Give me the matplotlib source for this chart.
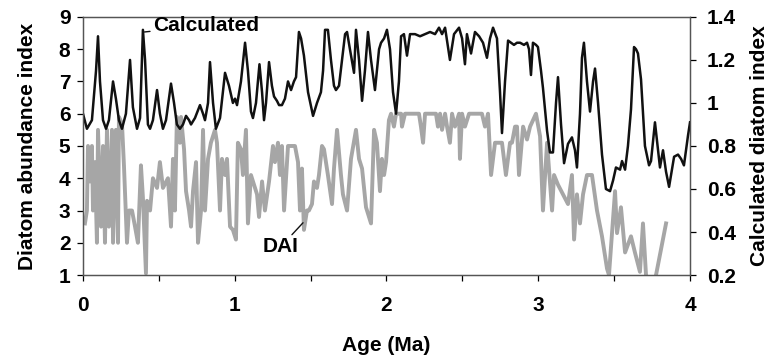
import numpy as np
import matplotlib.pyplot as plt
from matplotlib.ticker import MultipleLocator, FixedLocator

plt.rcParams['font.family'] = ['Liberation Sans', 'DejaVu Sans']
plt.rcParams['font.weight'] = 'bold'

# calculated diatom index (right axis)
calc_age = [0.000, 0.026, 0.059, 0.086, 0.099, 0.112, 0.132, 0.152, 0.171, 0.198,
            0.217, 0.237, 0.257, 0.283, 0.310, 0.329, 0.356, 0.376, 0.395, 0.409,
            0.428, 0.442, 0.461, 0.488, 0.507, 0.527, 0.547, 0.580, 0.600, 0.619,
            0.639, 0.659, 0.679, 0.699, 0.712, 0.738, 0.771, 0.791, 0.804, 0.824,
            0.837, 0.857, 0.876, 0.903, 0.936, 0.962, 0.988, 1.002, 1.015, 1.041,
            1.068, 1.087, 1.107, 1.120, 1.140, 1.163, 1.180, 1.193, 1.206, 1.226,
            1.245, 1.259, 1.278, 1.292, 1.311, 1.331, 1.351, 1.371, 1.390, 1.404,
            1.423, 1.437, 1.456, 1.483, 1.516, 1.542, 1.568, 1.582, 1.595, 1.614,
            1.634, 1.654, 1.667, 1.687, 1.707, 1.727, 1.740, 1.759, 1.786, 1.799,
            1.819, 1.839, 1.858, 1.878, 1.898, 1.924, 1.951, 1.964, 1.984, 2.003,
            2.023, 2.043, 2.063, 2.082, 2.096, 2.115, 2.135, 2.155, 2.188, 2.221,
            2.254, 2.287, 2.320, 2.346, 2.366, 2.386, 2.418, 2.445, 2.478, 2.498,
            2.517, 2.530, 2.557, 2.583, 2.610, 2.636, 2.662, 2.682, 2.702, 2.728,
            2.748, 2.761, 2.781, 2.801, 2.820, 2.840, 2.860, 2.880, 2.906, 2.926,
            2.939, 2.952, 2.965, 2.985, 2.998, 3.018, 3.031, 3.058, 3.077, 3.097,
            3.117, 3.130, 3.150, 3.170, 3.196, 3.222, 3.242, 3.255, 3.275, 3.288,
            3.301, 3.321, 3.341, 3.361, 3.374, 3.394, 3.420, 3.446, 3.473, 3.493,
            3.512, 3.539, 3.552, 3.572, 3.591, 3.611, 3.631, 3.644, 3.657, 3.677,
            3.703, 3.730, 3.743, 3.769, 3.802, 3.822, 3.842, 3.862, 3.895, 3.921,
            3.941, 3.960, 3.987, 4.000]
calc_val = [0.95, 0.88, 0.92, 1.15, 1.31, 1.10, 0.92, 0.88, 0.92, 1.10,
            1.02, 0.92, 0.88, 0.95, 1.20, 0.98, 0.88, 0.93, 1.34, 1.20,
            0.90, 0.88, 0.92, 1.06, 0.95, 0.88, 0.92, 1.09, 1.00, 0.90,
            0.88, 0.90, 0.94, 0.92, 0.90, 0.93, 0.99, 0.95, 0.92, 1.00,
            1.19, 1.00, 0.88, 0.93, 1.14, 1.08, 1.00, 1.02, 0.99, 1.10,
            1.28, 1.15, 0.96, 0.93, 1.00, 1.18, 1.05, 0.92, 1.00, 1.19,
            1.08, 1.03, 1.01, 0.99, 0.99, 1.02, 1.10, 1.06, 1.10, 1.12,
            1.33, 1.30, 1.22, 1.05, 0.94, 1.00, 1.05, 1.15, 1.34, 1.34,
            1.20, 1.08, 1.06, 1.08, 1.20, 1.32, 1.33, 1.25, 1.14, 1.34,
            1.20, 1.01, 1.15, 1.33, 1.20, 1.06, 1.25, 1.28, 1.30, 1.34,
            1.25, 1.05, 0.95, 1.10, 1.31, 1.32, 1.22, 1.32, 1.32, 1.31,
            1.32, 1.33, 1.32, 1.35, 1.32, 1.35, 1.20, 1.32, 1.35, 1.30,
            1.18, 1.32, 1.23, 1.33, 1.31, 1.28, 1.21, 1.30, 1.35, 1.30,
            1.05, 0.86, 1.10, 1.29, 1.28, 1.27, 1.28, 1.28, 1.27, 1.28,
            1.25, 1.13, 1.28, 1.27, 1.26, 1.15, 1.07, 0.87, 0.77, 0.77,
            1.00, 1.12, 0.90, 0.72, 0.81, 0.84, 0.78, 0.70, 0.95, 1.21,
            1.28, 1.10, 0.96, 1.10, 1.16, 1.00, 0.76, 0.60, 0.59, 0.64,
            0.70, 0.69, 0.73, 0.69, 0.80, 0.97, 1.26, 1.25, 1.23, 1.11,
            0.80, 0.71, 0.73, 0.91, 0.70, 0.78, 0.68, 0.61, 0.75, 0.76,
            0.74, 0.71, 0.85, 0.91]

# diatom abundance index (left axis)
dai_age = [0.013, 0.026, 0.033, 0.046, 0.059, 0.066, 0.079, 0.092, 0.099, 0.119,
           0.132, 0.145, 0.158, 0.171, 0.191, 0.198, 0.217, 0.231, 0.237, 0.257,
           0.270, 0.290, 0.303, 0.323, 0.343, 0.362, 0.382, 0.395, 0.415, 0.422,
           0.442, 0.461, 0.488, 0.507, 0.527, 0.560, 0.580, 0.593, 0.606, 0.619,
           0.639, 0.646, 0.666, 0.679, 0.699, 0.712, 0.725, 0.745, 0.758, 0.778,
           0.791, 0.804, 0.824, 0.843, 0.870, 0.883, 0.903, 0.916, 0.936, 0.949,
           0.969, 0.988, 1.008, 1.021, 1.041, 1.054, 1.074, 1.087, 1.107, 1.127,
           1.147, 1.160, 1.180, 1.199, 1.226, 1.252, 1.265, 1.285, 1.298, 1.311,
           1.325, 1.351, 1.397, 1.417, 1.430, 1.443, 1.456, 1.476, 1.489, 1.509,
           1.522, 1.542, 1.555, 1.575, 1.588, 1.614, 1.641, 1.654, 1.674, 1.700,
           1.713, 1.740, 1.766, 1.799, 1.819, 1.839, 1.865, 1.898, 1.918, 1.937,
           1.957, 1.970, 1.984, 1.997, 2.016, 2.030, 2.049, 2.063, 2.096, 2.102,
           2.122, 2.214, 2.227, 2.241, 2.254, 2.326, 2.339, 2.353, 2.366, 2.386,
           2.399, 2.418, 2.432, 2.451, 2.478, 2.484, 2.498, 2.517, 2.544, 2.629,
           2.649, 2.669, 2.689, 2.715, 2.761, 2.787, 2.814, 2.827, 2.847, 2.860,
           2.873, 2.900, 2.926, 2.946, 2.985, 3.012, 3.031, 3.058, 3.091, 3.104,
           3.130, 3.163, 3.196, 3.222, 3.236, 3.255, 3.275, 3.295, 3.321, 3.354,
           3.387, 3.420, 3.453, 3.466, 3.506, 3.519, 3.545, 3.572, 3.611, 3.637,
           3.670, 3.690, 3.710, 3.743, 3.776, 3.842]
dai_val = [2.6, 3.0, 5.0, 3.9, 5.0, 3.0, 4.5, 2.0, 5.5, 2.5,
           5.0, 2.0, 5.5, 2.5, 5.5, 2.0, 5.5, 2.0, 5.9, 5.7,
           4.4, 2.0, 3.0, 3.0, 2.5, 2.0, 4.4, 3.4, 1.05, 3.3,
           3.0, 4.0, 3.7, 4.5, 3.7, 4.0, 2.5, 4.6, 3.0, 5.9,
           5.1, 5.9, 4.9, 3.6, 3.0, 2.5, 3.6, 4.5, 2.0, 3.0,
           5.5, 3.0, 4.6, 5.1, 5.5, 5.1, 3.0, 4.6, 4.1, 4.6,
           2.5, 2.4, 2.1, 5.1, 4.9, 4.1, 5.5, 2.6, 4.1, 3.8,
           3.5, 2.8, 3.9, 3.0, 3.9, 5.0, 4.5, 5.1, 4.1, 5.0,
           3.0, 5.0, 5.0, 4.5, 3.0, 4.3, 2.4, 3.0, 3.0, 3.2,
           3.9, 3.7, 4.1, 5.0, 4.9, 4.1, 3.2, 4.3, 5.5, 4.1,
           3.5, 3.0, 4.6, 5.5, 4.6, 4.3, 3.1, 2.6, 5.5, 5.1,
           3.6, 4.6, 4.1, 4.5, 5.8, 6.0, 5.6, 6.0, 6.0, 5.6,
           6.0, 6.0, 5.6, 5.1, 6.0, 6.0, 5.6, 6.0, 5.5, 6.0,
           5.6, 5.1, 6.0, 5.6, 6.0, 4.6, 6.0, 5.6, 6.0, 6.0,
           5.6, 6.0, 4.1, 5.1, 5.1, 4.1, 5.1, 5.1, 5.6, 5.6,
           4.1, 5.6, 5.2, 5.6, 6.0, 5.3, 3.0, 5.1, 3.0, 4.1,
           3.8, 3.5, 3.2, 4.1, 2.1, 3.5, 2.6, 3.5, 4.1, 4.1,
           3.0, 2.2, 1.2, 1.0, 3.6, 2.3, 3.1, 1.7, 2.2, 1.7,
           1.1, 2.6, 1.0, 0.6, 1.0, 2.6]

fig = plt.figure(figsize=(7.74, 3.6), dpi=100)
ax = fig.add_axes([0.1072, 0.236, 0.7843, 0.717])
ax2 = ax.twinx()

ax.plot(dai_age, dai_val, color='#a6a6a6', lw=2.8)
ax2.plot(calc_age, calc_val, color='#111111', lw=1.8)

ax.set_xlim(0, 4)
ax.set_ylim(1, 9)
ax2.set_ylim(0.2, 1.4)

ax.xaxis.set_major_locator(FixedLocator([0, 1, 2, 3, 4]))
ax.xaxis.set_minor_locator(MultipleLocator(0.5))
ax.yaxis.set_major_locator(MultipleLocator(1))
ax2.yaxis.set_major_locator(MultipleLocator(0.2))
ax2.yaxis.set_major_formatter(plt.FuncFormatter(lambda v, p: ('%.1f' % v).rstrip('0').rstrip('.')))

for a in (ax, ax2):
    a.tick_params(which='both', direction='out', length=4, width=0.9, labelsize=15)
    for s in a.spines.values():
        s.set_color('#555555')
        s.set_linewidth(0.9)
ax.tick_params(axis='x', which='both', pad=11)
ax.tick_params(axis='y', pad=5)
ax2.tick_params(axis='y', pad=8)

ax.set_xlabel('Age (Ma)', fontsize=15, fontweight='bold', labelpad=15)
ax.set_ylabel('Diatom abundance index', fontsize=15, fontweight='bold', labelpad=16)
ax2.set_ylabel('Calculated diatom index', fontsize=15, fontweight='bold', labelpad=10)

ax2.annotate('Calculated', xy=(0.405, 1.33), xytext=(0.46, 1.36),
             fontsize=15, fontweight='bold', va='center', ha='left',
             arrowprops=dict(arrowstyle='-', color='#111111', lw=1.0, shrinkA=0, shrinkB=0))
ax.annotate('DAI', xy=(1.45, 2.62), xytext=(1.42, 1.87),
            fontsize=15, fontweight='bold', va='center', ha='right',
            arrowprops=dict(arrowstyle='-', color='#111111', lw=1.0, shrinkA=0, shrinkB=0))

fig.savefig('out.png', dpi=100)
